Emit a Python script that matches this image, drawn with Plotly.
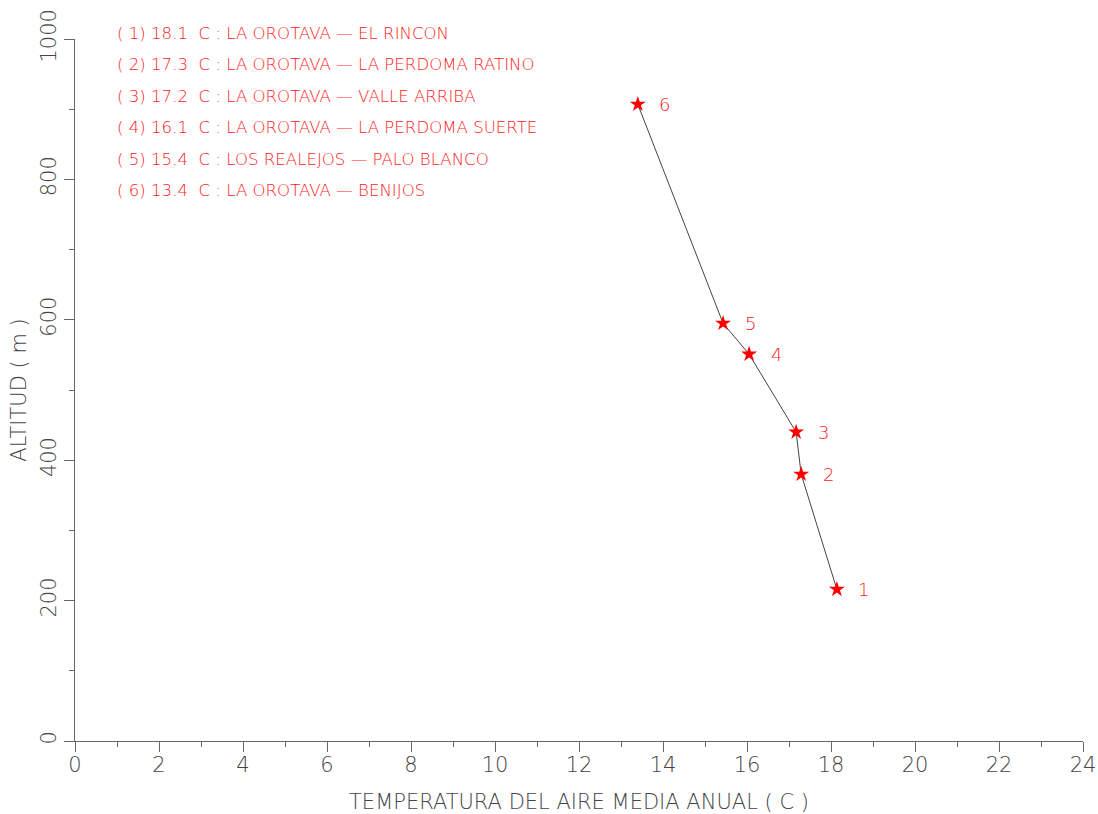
import plotly.graph_objects as go

temps = [18.14, 17.29, 17.17, 16.05, 15.43, 13.40]
alts = [216, 380, 440, 551, 595, 907]
point_ids = ["1", "2", "3", "4", "5", "6"]
legend_lines = [
    "( 1) 18.1  C : LA OROTAVA \u2014 EL RINCON",
    "( 2) 17.3  C : LA OROTAVA \u2014 LA PERDOMA RATINO",
    "( 3) 17.2  C : LA OROTAVA \u2014 VALLE ARRIBA",
    "( 4) 16.1  C : LA OROTAVA \u2014 LA PERDOMA SUERTE",
    "( 5) 15.4  C : LOS REALEJOS \u2014 PALO BLANCO",
    "( 6) 13.4  C : LA OROTAVA \u2014 BENIJOS",
]
x_ticks = list(range(0, 25, 2))
y_ticks = list(range(0, 1001, 200))

FONT = "DejaVu Sans"
W = 200
GREY = "#444444"
RED = "#ff1a1a"

fig = go.Figure()
fig.add_trace(go.Scatter(
    x=temps, y=alts, mode="lines+markers",
    line=dict(color="#444444", width=1),
    marker=dict(symbol="star", size=12, color="red", line=dict(width=0)),
    hoverinfo="skip", showlegend=False,
))

annotations = []
for t, a, pid in zip(temps, alts, point_ids):
    annotations.append(dict(
        x=t, y=a, xref="x", yref="y", text=pid, showarrow=False,
        xanchor="center", yanchor="middle", xshift=27,
        font=dict(family=FONT, size=18, color=RED, weight=W),
    ))
for i, line in enumerate(legend_lines):
    annotations.append(dict(
        x=0.040, y=1.0085 - i * 0.045, xref="paper", yref="paper",
        text=line, showarrow=False, xanchor="left", yanchor="middle",
        font=dict(family=FONT, size=16.6, color=RED, weight=W),
    ))

axis_common = dict(
    showgrid=False, zeroline=False, showline=True, linecolor="#666666", linewidth=1,
    ticks="outside", ticklen=10, tickcolor="#666666", tickwidth=1, automargin=False,
    ticklabeloverflow="allow",
    tickfont=dict(family=FONT, size=21, color=GREY, weight=W),
    title_font=dict(family=FONT, size=21, color=GREY, weight=W),
)

fig.update_layout(
    width=1098, height=814,
    margin=dict(l=75, r=15, t=39, b=73),
    plot_bgcolor="white", paper_bgcolor="white",
    xaxis=dict(
        range=[0, 24], tickvals=x_ticks, ticktext=[str(v) for v in x_ticks],
        minor=dict(dtick=1, ticks="outside", ticklen=5, tickcolor="#666666"),
        ticklabelstandoff=-5,
        title=dict(text="TEMPERATURA DEL AIRE MEDIA ANUAL ( C )", standoff=28),
        **axis_common,
    ),
    yaxis=dict(
        range=[0, 1000], tickvals=y_ticks, ticktext=[str(v) for v in y_ticks],
        tickangle=-90,
        minor=dict(dtick=100, ticks="outside", ticklen=5, tickcolor="#666666"),
        title=dict(text="ALTITUD ( m )", standoff=4),
        **axis_common,
    ),
    annotations=annotations,
)

fig.write_html(
    "out.html",
    config={"displayModeBar": False},
    post_script="document.body.style.margin='0';document.body.style.overflow='hidden';",
)
